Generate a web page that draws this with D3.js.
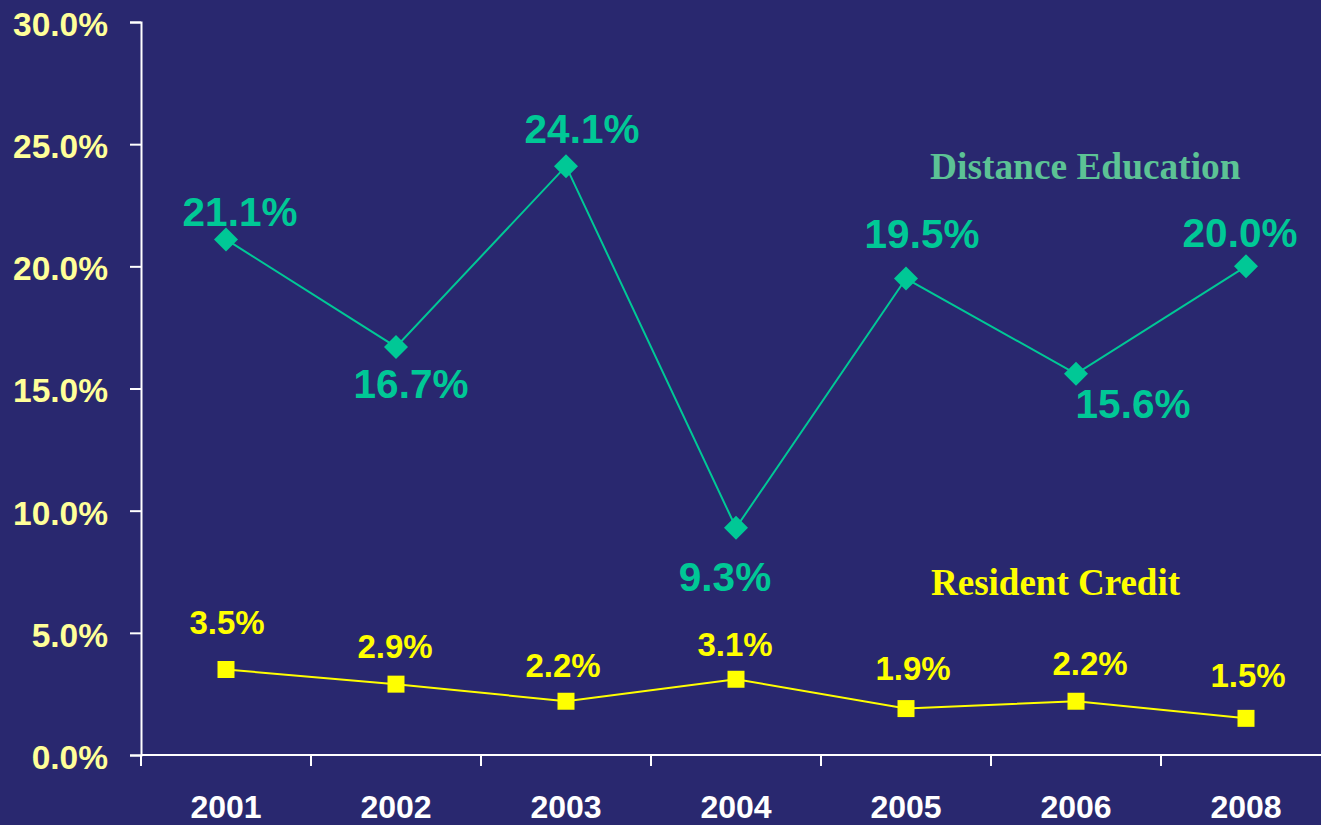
<!DOCTYPE html>
<html>
<head>
<meta charset="utf-8">
<script src="https://cdn.jsdelivr.net/npm/d3@7"></script>
<style>
  html, body { margin: 0; padding: 0; background: #29286F; overflow: hidden; }
  svg { display: block; }
</style>
</head>
<body>
<svg id="chart" width="1321" height="825"></svg>
<script>
// ---- data ----
const years = ["2001", "2002", "2003", "2004", "2005", "2006", "2008"];
const distanceEducation = [21.1, 16.7, 24.1, 9.3, 19.5, 15.6, 20.0];
const residentCredit = [3.5, 2.9, 2.2, 3.1, 1.9, 2.2, 1.5];
const yTicks = [0, 5, 10, 15, 20, 25, 30];
const seriesNames = ["Distance Education", "Resident Credit"];

// ---- layout (label placement, not data) ----
const deLabelOffsets = [[14, -13], [15, 51], [16, -23], [-11, 63], [16, -31], [57, 44], [-6, -19]];
const rcLabelOffsets = [[1, -35], [-1, -26], [-3, -24], [-1, -23], [7, -29], [14, -26], [2, -31]];

const colors = {
  bg: "#29286F",
  de: "#00C896",
  deTitle: "#5CC395",
  rc: "#FFFF00",
  yTick: "#FFFF99",
  axis: "#FFFFFF"
};
const sans = "'Liberation Sans', Arial, Helvetica, sans-serif";
const serif = "'Liberation Serif', 'Times New Roman', serif";

const svg = d3.select("#chart");
svg.append("rect").attr("width", 1321).attr("height", 825).attr("fill", colors.bg);

const x = d3.scaleBand().domain(years).range([141, 1331]).padding(0);
const y = d3.scaleLinear().domain([0, 30]).range([755, 22]);
const cx = d => x(d) + x.bandwidth() / 2;

// Y axis
const yAxis = d3.axisLeft(y).tickValues(yTicks).tickSize(11).tickPadding(22)
  .tickFormat(d => d3.format(".1f")(d) + "%");
const gy = svg.append("g").attr("transform", "translate(141,0)").call(yAxis);
gy.select(".domain").attr("stroke", colors.axis).attr("stroke-width", 2);
gy.selectAll(".tick line").attr("stroke", colors.axis).attr("stroke-width", 2);
gy.selectAll(".tick text").attr("fill", colors.yTick).attr("font-family", sans)
  .attr("font-weight", "bold").attr("font-size", 33.5).attr("dy", "0.4em");

// X axis
const xAxis = d3.axisBottom(x).tickSize(0).tickPadding(40);
const gx = svg.append("g").attr("transform", "translate(0,755)").call(xAxis);
gx.select(".domain").remove();
gx.append("line").attr("x1", 141).attr("x2", 1321).attr("y1", 0).attr("y2", 0)
  .attr("stroke", colors.axis).attr("stroke-width", 2);
gx.selectAll(".tick text").attr("fill", colors.axis).attr("font-family", sans)
  .attr("font-weight", "bold").attr("font-size", 32);
// category boundary ticks
gx.selectAll(".bound").data(years).enter().append("line").attr("class", "bound")
  .attr("x1", d => x(d)).attr("x2", d => x(d)).attr("y1", 0).attr("y2", 11)
  .attr("stroke", colors.axis).attr("stroke-width", 2);

// Lines
const line = d3.line().x((d, i) => cx(years[i])).y(d => y(d));
svg.append("path").datum(distanceEducation).attr("d", line)
  .attr("fill", "none").attr("stroke", colors.de).attr("stroke-width", 2);
svg.append("path").datum(residentCredit).attr("d", line)
  .attr("fill", "none").attr("stroke", colors.rc).attr("stroke-width", 2);

// Markers
svg.selectAll(".de-marker").data(distanceEducation).enter().append("path")
  .attr("class", "de-marker")
  .attr("d", d3.symbol().type(d3.symbolSquare).size(288))
  .attr("transform", (d, i) => `translate(${cx(years[i])},${y(d)}) rotate(45)`)
  .attr("fill", colors.de);
svg.selectAll(".rc-marker").data(residentCredit).enter().append("path")
  .attr("class", "rc-marker")
  .attr("d", d3.symbol().type(d3.symbolSquare).size(289))
  .attr("transform", (d, i) => `translate(${cx(years[i])},${y(d)})`)
  .attr("fill", colors.rc);

// Data labels
svg.selectAll(".de-label").data(distanceEducation).enter().append("text")
  .attr("x", (d, i) => cx(years[i]) + deLabelOffsets[i][0])
  .attr("y", (d, i) => y(d) + deLabelOffsets[i][1])
  .attr("text-anchor", "middle").attr("fill", colors.de)
  .attr("font-family", sans).attr("font-weight", "bold").attr("font-size", 40.5)
  .text(d => d.toFixed(1) + "%");
svg.selectAll(".rc-label").data(residentCredit).enter().append("text")
  .attr("x", (d, i) => cx(years[i]) + rcLabelOffsets[i][0])
  .attr("y", (d, i) => y(d) + rcLabelOffsets[i][1])
  .attr("text-anchor", "middle").attr("fill", colors.rc)
  .attr("font-family", sans).attr("font-weight", "bold").attr("font-size", 33)
  .text(d => d.toFixed(1) + "%");

// Series titles
svg.append("text").attr("x", 930).attr("y", 179).attr("fill", colors.deTitle)
  .attr("font-family", serif).attr("font-weight", "bold").attr("font-size", 37.4)
  .text(seriesNames[0]);
svg.append("text").attr("x", 931).attr("y", 595).attr("fill", colors.rc)
  .attr("font-family", serif).attr("font-weight", "bold").attr("font-size", 37)
  .text(seriesNames[1]);
</script>
</body>
</html>
